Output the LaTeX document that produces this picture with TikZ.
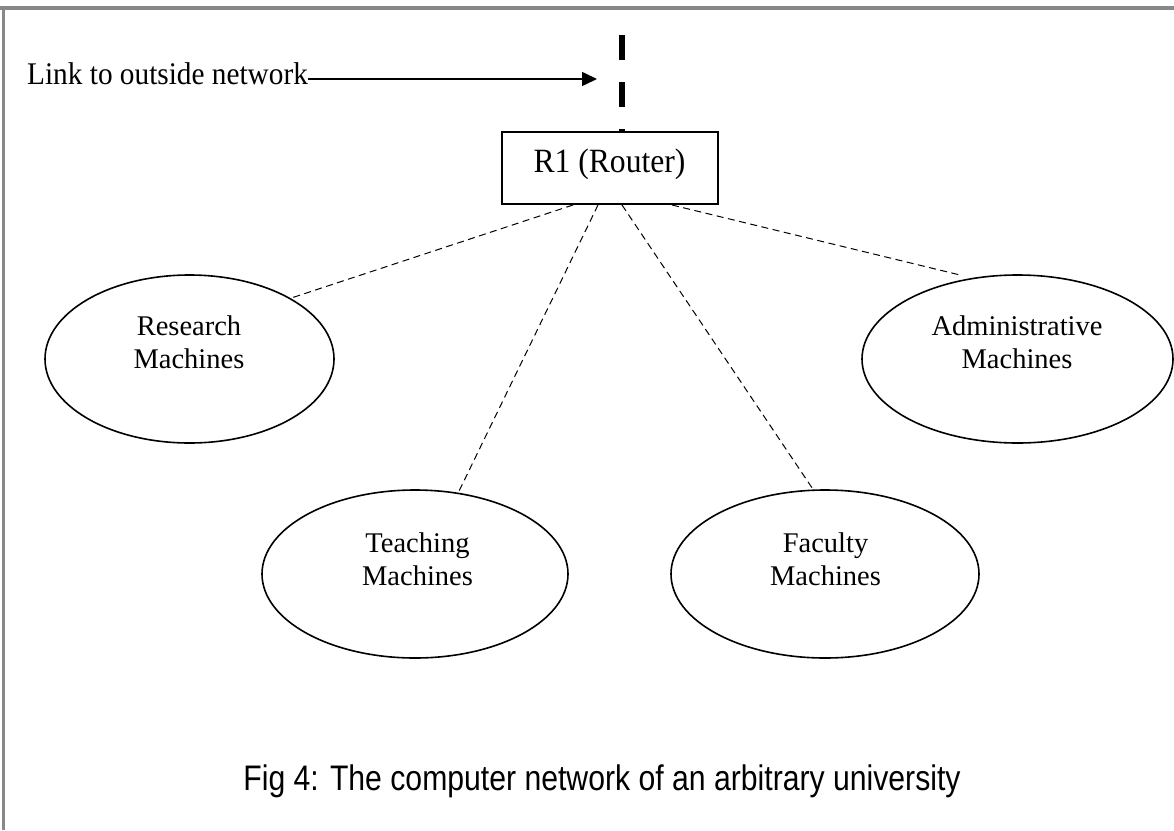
\documentclass[tikz,border=0pt]{standalone}
\usepackage{fontspec}
\usetikzlibrary{arrows.meta,shapes.geometric}
\newfontfamily\figserif{Liberation Serif}
\newfontfamily\figserifnarrow[FakeStretch=0.93]{Liberation Serif}
\newfontfamily\figsans[FakeStretch=0.85]{Liberation Sans}
\definecolor{framegray}{RGB}{136,136,136}

\begin{document}
\begin{tikzpicture}[x=1pt,y=-1pt,
  frameline/.style={draw=framegray,line width=4pt},
  machine/.style={draw,ellipse,line width=1.6pt,inner sep=0pt,minimum height=168pt},
  machinelabel/.style={font=\figserif\fontsize{28.5}{33.5}\selectfont,align=center,inner sep=0pt,anchor=north},
  routerbox/.style={draw,rectangle,line width=2pt,minimum width=216pt,minimum height=72pt,inner sep=0pt},
  uplink/.style={line width=5.5pt,dash pattern=on 25pt off 22pt},
  lanlink/.style={line width=1pt,dash pattern=on 7pt off 4.5pt},
  pointer/.style={line width=1.6pt,-{Triangle[length=15pt,width=14pt]}},
]
\useasboundingbox (0,0) rectangle (1174,830);
\fill[white] (0,0) rectangle (1174,830);

% page frame (top and left edges)
\draw[frameline] (0,8) -- (1174,8);
\draw[frameline,line width=3.5pt] (3.5,6) -- (3.5,830);

% router
\node[routerbox] (router) at (610,168) {};
\node[font=\figserifnarrow\fontsize{34}{38}\selectfont,inner sep=0pt,anchor=base] (routerlabel) at (609.5,172.7) {R1 (Router)};

% link to the outside network
\node[font=\figserifnarrow\fontsize{31.5}{36}\selectfont,inner sep=0pt,anchor=base west] (linklabel) at (27,84) {Link to outside network};
\coordinate (linktip) at (597,79);
\draw[pointer] ([yshift=5pt]linklabel.base east) -- (linktip);
\coordinate (uplinktop) at (622,35);
\draw[uplink] (uplinktop) -- (uplinktop |- router.north);

% machine groups
\node[machine,minimum width=289pt] (research) at (189.5,359) {};
\node[machinelabel] (researchlabel) at (189,315.5) {Research\\Machines};

\node[machine,minimum width=306pt] (teaching) at (415,574) {};
\node[machinelabel] (teachinglabel) at (417.5,532.5) {Teaching\\Machines};

\node[machine,minimum width=308pt] (faculty) at (825,574) {};
\node[machinelabel] (facultylabel) at (825.5,532.5) {Faculty\\Machines};

\node[machine,minimum width=311pt] (admin) at (1017.5,359) {};
\node[machinelabel] (adminlabel) at (1017,315.5) {Administrative\\Machines};

% LAN connections from the router
\draw[lanlink] ([xshift=-37pt]router.south) -- (research.31);
\draw[lanlink] ([xshift=-12pt]router.south) -- (teaching.62);
\draw[lanlink] ([xshift=12pt]router.south) -- (faculty.98);
\coordinate (admintip) at (960,275);
\draw[lanlink] ([xshift=62pt]router.south) -- (admintip);

% caption
\node[font=\figsans\fontsize{35.5}{42}\selectfont,inner sep=0pt,anchor=base] (caption) at (602,790) {Fig 4: The computer network of an arbitrary university};
\end{tikzpicture}
\end{document}
